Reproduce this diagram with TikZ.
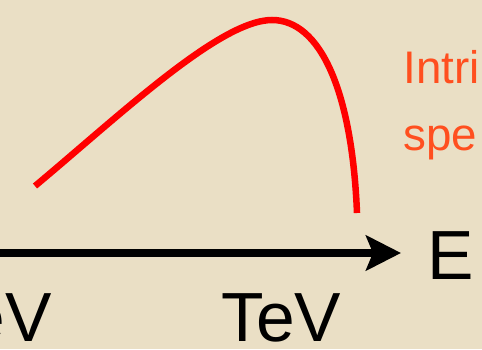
\documentclass[tikz,border=0pt]{standalone}
\usepackage{xcolor}
\usepackage{fontspec}
\setmainfont{Liberation Sans}
\usepackage{tikz}
\usetikzlibrary{arrows.meta}
\definecolor{SpPaper}{HTML}{EADFC5}
\definecolor{SpRed}{HTML}{FF0000}
\definecolor{SpOrange}{HTML}{FF4F1F}

\begin{document}
\begin{tikzpicture}[x=0.02cm,y=0.02cm,
  axislabel/.style={inner sep=0pt,font=\fontsize{39.6}{44}\selectfont},
  notelabel/.style={inner sep=0pt,text=SpOrange,font=\fontsize{26}{30}\selectfont}]
\path[use as bounding box,fill=SpPaper] (0,0) rectangle (482,349);
% spectrum
\draw[SpRed,line width=3.7pt] (35,163) .. controls (120,234) and (220,329) .. (272,329)
  .. controls (320,329) and (352,259) .. (357,136);
% energy axis
\coordinate (axstart) at (-5,96);
\coordinate (axend) at (401,96);
\draw[line width=4pt,-{Stealth[length=0.7cm,width=0.7cm,inset=0.14cm]}] (axstart) -- (axend);
\node[axislabel,anchor=base west] (elabel) at (427,70) {E};
\node[axislabel,anchor=base west] (tevlabel) at (221,8) {TeV};
\node[axislabel,anchor=base east] (evlabel) at (52,8) {eV};
\node[notelabel,anchor=base west] (note1) at (403,266) {Intri};
\node[notelabel,anchor=base west] (note2) at (403,199) {spe};
\end{tikzpicture}
\end{document}
